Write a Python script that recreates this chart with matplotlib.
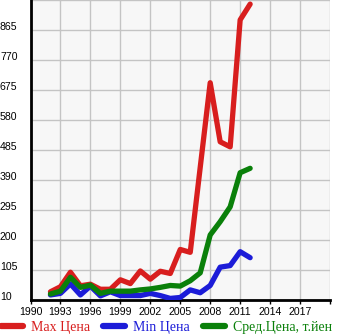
import numpy as np
import matplotlib
matplotlib.use('Agg')
import matplotlib.pyplot as plt
from matplotlib.transforms import blended_transform_factory

# yearly prices, thousands of yen
years = np.arange(1992, 2013)
maxPrice = [36, 52, 98, 55, 60, 44, 44, 74, 62, 102, 76, 101, 94, 170, 161, 430, 698, 511, 495, 897, 947]
minPrice = [26, 31, 61, 26, 54, 23, 36, 24, 24, 24, 31, 24, 15, 18, 42, 33, 56, 114, 119, 163, 144]
avgPrice = [29, 38, 82, 50, 57, 31, 38, 38, 38, 42, 45, 50, 56, 54, 71, 96, 216, 258, 305, 413, 427]

yTicks = [10, 105, 200, 295, 390, 485, 580, 675, 770, 865]
xTicks = np.arange(1990, 2021, 3)
xLabels = [str(y) for y in range(1990, 2018, 3)] + ['']

W, H = 345, 335
fig = plt.figure(figsize=(W / 100, H / 100), dpi=100)
ax = fig.add_axes([30.5 / W, 35 / H, 299.5 / W, 300 / H])
ax.set_facecolor('#f7f7f7')

lw = 3.8
ax.plot(years, maxPrice, color='#d81e1e', lw=lw, solid_capstyle='round', solid_joinstyle='round', label='Max Цена', zorder=3)
ax.plot(years, minPrice, color='#1c1cd8', lw=lw, solid_capstyle='round', solid_joinstyle='round', label='Min Цена', zorder=3)
ax.plot(years, avgPrice, color='#0a800a', lw=lw, solid_capstyle='round', solid_joinstyle='round', label='Сред.Цена, т.йен', zorder=3)

ax.set_xlim(1990, 2020)
ax.set_ylim(10, 960)
ax.set_xticks(xTicks)
ax.set_xticklabels(xLabels, family='Liberation Sans', fontsize=7.6)
ax.set_yticks(yTicks + [960])
ax.set_yticklabels([])
ax.tick_params(axis='y', length=0)
ax.tick_params(axis='x', length=3, width=1, pad=2, color='black')
ax.grid(True, color='#c4c4c4', lw=1)
ax.set_axisbelow(True)

for s in ['top', 'right']:
    ax.spines[s].set_visible(False)
ax.spines['left'].set_linewidth(2)
ax.spines['bottom'].set_linewidth(2)

# y labels sit on the gridline, flush with the left edge
tr = blended_transform_factory(fig.transFigure, ax.transData)
for v in yTicks:
    ax.text(0.0, v, str(v), transform=tr, ha='left', va='baseline',
            fontsize=7.6, family='Liberation Sans')

leg = fig.legend(loc='lower left', bbox_to_anchor=(0, 0), ncol=3, frameon=False,
                 prop={'family': 'Liberation Serif', 'size': 10}, labelcolor='linecolor',
                 handlelength=1.58, handletextpad=0.58, columnspacing=0.94,
                 borderpad=0.05, borderaxespad=0.0)
for h in leg.legend_handles:
    h.set_linewidth(4.5)
    h.set_solid_capstyle('round')

plt.savefig('out.png', dpi=100)
